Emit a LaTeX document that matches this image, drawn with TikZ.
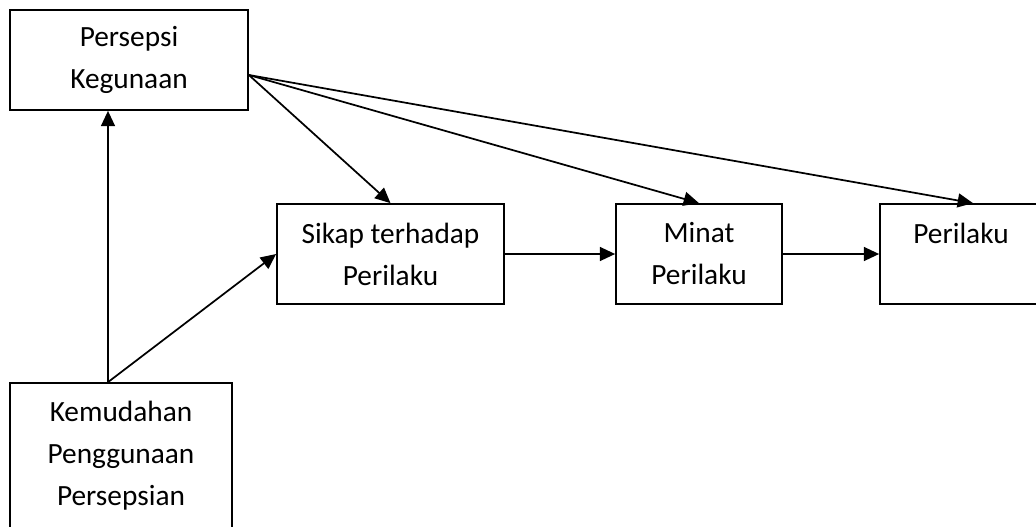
\documentclass[tikz,border=0pt]{standalone}
\usepackage{fontspec}
\setmainfont{Carlito}
\usetikzlibrary{arrows.meta,calc}
\tikzset{
  kotak/.style={draw, line width=1.3pt, inner sep=0pt, align=center,
    font=\fontsize{22}{31.5}\selectfont},
  panah/.style={line width=1.3pt, -{Triangle[length=11.5pt,width=10.5pt]}}
}

\begin{document}
\begin{tikzpicture}[x=0.75pt, y=-0.75pt]
			%%%%% START %%%%%
			\useasboundingbox (0, 0) rectangle (1036, 526);
			\clip (0, 0) rectangle (1036, 526);
			
			\node[kotak, minimum width=178.5pt, minimum height=75pt] (guna) at (129, 60) {Persepsi\\Kegunaan};
			\node[kotak, minimum width=170.25pt, minimum height=75pt] (sikap) at (390.5, 254) {Sikap terhadap\\Perilaku};
			\node[kotak, minimum width=124.5pt, minimum height=75pt] (minat) at (699, 254) {Minat\\Perilaku};
			\node[kotak, minimum width=121.5pt, minimum height=75pt] (laku) at (961, 254) {Perilaku\\~};
			\node[kotak, minimum width=166.5pt, minimum height=109.5pt] (mudah) at (121, 456) {Kemudahan\\Penggunaan\\Persepsian};
			
			\coordinate (mudahtop) at ($(mudah.north)+(-13, 0)$);
			\coordinate (gunakanan) at ($(guna.east)+(0, 15)$);
			\coordinate (lakutop) at ($(laku.north)+(12, 0)$);
			
			\draw[panah] (mudahtop) -- (mudahtop |- guna.south);
			\draw[panah] (mudahtop) -- (sikap.west);
			
			\draw[panah] (gunakanan) -- (sikap.north);
			\draw[panah] (gunakanan) -- (minat.north);
			\draw[panah] (gunakanan) -- (lakutop);
			
			\draw[panah] (sikap.east) -- (minat.west);
			\draw[panah] (minat.east) -- (laku.west);
			%%%%% END %%%%%
\end{tikzpicture}
\end{document}
